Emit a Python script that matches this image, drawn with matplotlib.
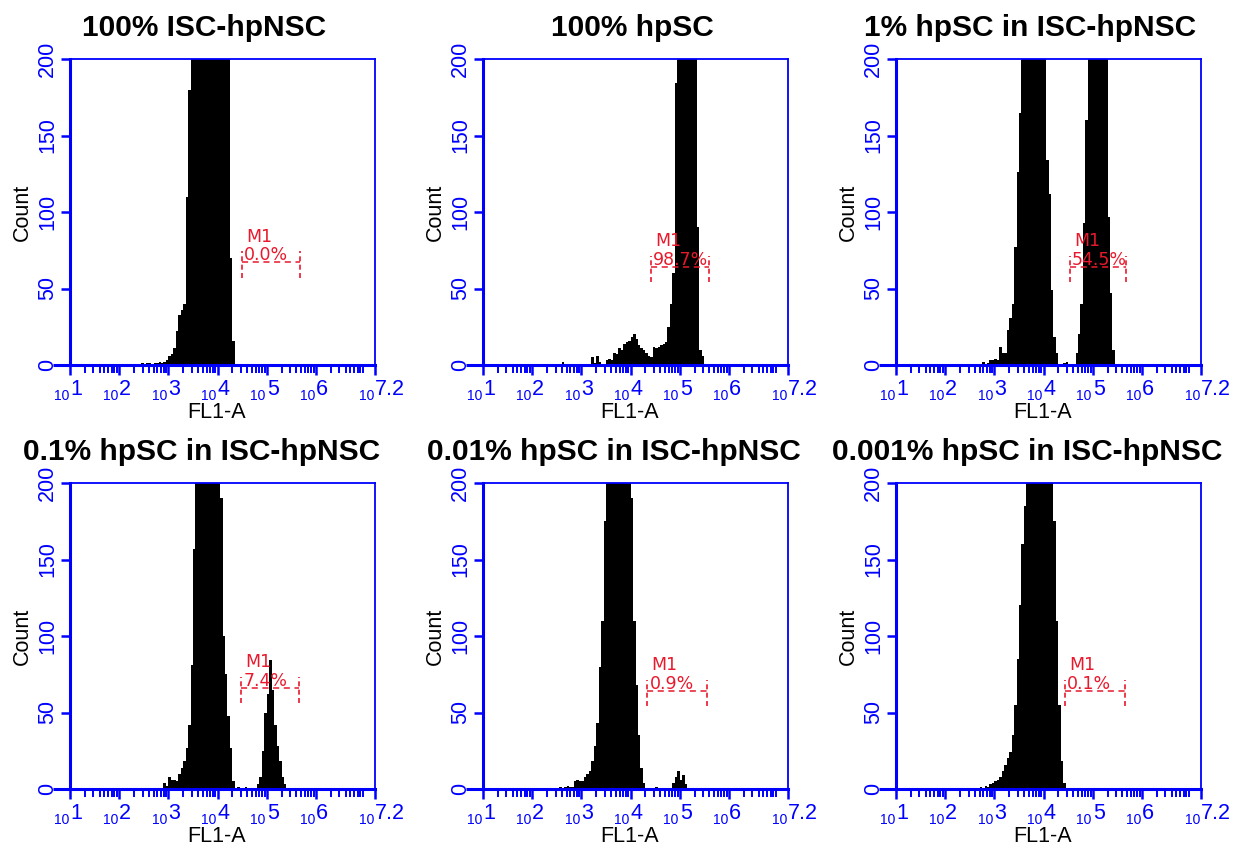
import matplotlib
matplotlib.use("Agg")
import matplotlib.pyplot as plt
import numpy as np
from matplotlib.ticker import FixedLocator, LogLocator, NullFormatter

plt.rcParams["font.family"] = ["Liberation Sans", "DejaVu Sans"]

BLUE = "#0000ff"
RED = "#e8192c"
BIN = 0.05          # histogram channel width, in decades of FL1-A

titles = ["100% ISC-hpNSC", "100% hpSC", "1% hpSC in ISC-hpNSC",
          "0.1% hpSC in ISC-hpNSC", "0.01% hpSC in ISC-hpNSC", "0.001% hpSC in ISC-hpNSC"]

# first channel (log10 FL1-A) of each histogram
starts = [2.45, 2.60, 2.70, 2.85, 2.55, 2.70]

counts_1 = [1, 0, 1, 1, 0, 1, 1, 2, 1, 2, 3, 6, 7, 11, 22, 33, 36, 40, 110, 180,
            230, 270, 310, 350, 390, 420, 440, 450, 440, 420, 390, 350, 310, 270, 240, 210,
            70, 16]
counts_2 = [2, 0, 0, 0, 0, 0, 0, 0, 0, 0, 0, 0,
            5, 1, 6, 2, 0, 0, 3, 4, 3, 8, 7, 11, 10, 14, 15, 16, 18, 20, 17, 13, 11, 10,
            8, 6, 5, 12, 11, 12, 13, 14, 15, 25, 40, 60, 184,
            250, 320, 380, 420, 400, 350, 290, 230, 90, 10, 6]
counts_3 = [0, 2, 0, 1, 3, 3, 4, 3, 12, 8, 8, 23, 31, 40, 77, 126, 165,
            230, 280, 330, 370, 390, 390, 370, 330, 280, 230,
            134, 112, 49, 18, 8, 0, 0, 1, 2, 0, 0, 0,
            8, 20, 40, 93, 160, 240, 300, 340, 360, 350, 320, 280, 230, 97, 47, 10]
counts_4 = [0, 4, 2, 8, 6, 6, 5, 10, 14, 18, 27, 42, 81, 157,
            230, 280, 330, 370, 390, 390, 370, 330, 280, 230,
            190, 100, 75, 48, 27, 5, 0, 1, 0, 0, 1, 0, 0, 0, 0,
            3, 8, 25, 50, 62, 84, 65, 42, 28, 18, 8, 3]
counts_5 = [1, 0, 1, 2, 1, 1, 5, 6, 5, 5, 8, 10, 12, 18, 28, 43, 80, 110, 175,
            230, 280, 330, 370, 390, 390, 370, 330, 280, 230,
            190, 110, 68, 35, 14, 4, 0, 0, 0, 0, 1, 0, 0, 0, 0, 0, 0,
            4, 8, 12, 6, 9, 3]
counts_6 = [1, 0, 2, 1, 3, 4, 5, 6, 8, 12, 16, 20, 24, 35, 55, 85, 120, 160, 185,
            230, 280, 330, 370, 390, 400, 390, 370, 330, 280, 230,
            175, 110, 55, 18, 4]
counts = [counts_1, counts_2, counts_3, counts_4, counts_5, counts_6]

# M1 gate: log10 limits, drawing height (count) and percent label
m1_lo = [4.50, 4.42, 4.53, 4.48, 4.34, 4.44]
m1_hi = [5.67, 5.60, 5.68, 5.66, 5.56, 5.66]
m1_y = [67, 64, 64, 66, 64, 64]
m1_pct = ["0.0%", "98.7%", "54.5%", "7.4%", "0.9%", "0.1%"]

decades = [1, 2, 3, 4, 5, 6, 7.2]
dec_labels = ["1", "2", "3", "4", "5", "6", "7.2"]

W, H = 1240, 848
fig = plt.figure(figsize=(W / 100, H / 100), dpi=100)
col_left = [70, 483, 896]
row_top = [59, 483]
ax_w, ax_h = 305, 306
title_x = [0.44, 0.49, 0.44, 0.43, 0.43, 0.43]

for i in range(6):
    r, c = divmod(i, 3)
    ax = fig.add_axes([col_left[c] / W, 1 - (row_top[r] + ax_h) / H, ax_w / W, ax_h / H])

    edges = 10 ** (starts[i] + BIN * np.arange(len(counts[i]) + 1))
    ax.stairs(counts[i], edges, fill=True, color="black", lw=0)

    ax.set_xscale("log")
    ax.set_xlim(10, 10 ** 7.2)
    ax.set_ylim(0, 200)

    ax.xaxis.set_major_locator(FixedLocator([10 ** d for d in decades]))
    ax.xaxis.set_minor_locator(LogLocator(base=10, subs=range(2, 10), numticks=30))
    ax.xaxis.set_major_formatter(NullFormatter())
    ax.xaxis.set_minor_formatter(NullFormatter())
    ax.tick_params(axis="x", which="major", length=7.5, width=1.8, color=BLUE)
    ax.tick_params(axis="x", which="minor", length=6, width=1.4, color=BLUE)

    ax.set_yticks([0, 50, 100, 150, 200])
    ax.tick_params(axis="y", length=6.5, width=1.8, color=BLUE, labelcolor=BLUE,
                   labelsize=15.5, pad=2)
    plt.setp(ax.get_yticklabels(), rotation=90, va="center")

    for side, lw in (("left", 2.2), ("bottom", 2.2), ("top", 1.3), ("right", 1.3)):
        ax.spines[side].set_color(BLUE)
        ax.spines[side].set_linewidth(lw)
    # longer zero tick reaching out to the label
    ax.plot([-17 / ax_w, 0], [0, 0], transform=ax.transAxes, color=BLUE, lw=2.2,
            clip_on=False, solid_capstyle="butt")

    for d, lab in zip(decades, dec_labels):
        ax.annotate("10", xy=(10 ** d, 0), xycoords=("data", "axes fraction"),
                    xytext=(-0.7, -25.2), textcoords="offset points",
                    ha="right", va="baseline", fontsize=10, color=BLUE,
                    annotation_clip=False)
        ax.annotate(lab, xy=(10 ** d, 0), xycoords=("data", "axes fraction"),
                    xytext=(0, -21.6), textcoords="offset points",
                    ha="left", va="baseline", fontsize=15.5, color=BLUE,
                    annotation_clip=False)

    ax.text(0.48, -48 / ax_h, "FL1-A", transform=ax.transAxes, ha="center", va="center",
            fontsize=15.5, color="black")
    ax.text(-0.157, 0.5, "Count", transform=ax.transAxes, rotation=90, ha="center",
            va="center", fontsize=15.5, color="black")
    ax.text(title_x[i], 1 + 31 / ax_h, titles[i], transform=ax.transAxes, ha="center",
            va="center", fontsize=21.5, fontweight="bold", color="black")

    # M1 marker
    lo, hi, y = 10 ** m1_lo[i], 10 ** m1_hi[i], m1_y[i]
    ax.plot([lo, hi], [y, y], color=RED, lw=1.1, ls=(0, (4, 3)))
    for xv in (lo, hi):
        ax.plot([xv, xv], [y - 10, y + 7.5], color=RED, lw=1.2, ls=(0, (3, 2)))
    ax.annotate("M1", xy=(lo, y), xytext=(3, 15), textcoords="offset points",
                ha="left", va="baseline", fontsize=12.5, color=RED,
                family=["DejaVu Sans"])
    ax.annotate(m1_pct[i], xy=(lo, y), xytext=(1.5, 1.5), textcoords="offset points",
                ha="left", va="baseline", fontsize=12.5, color=RED,
                family=["DejaVu Sans"])

fig.savefig("out.png", dpi=100)
